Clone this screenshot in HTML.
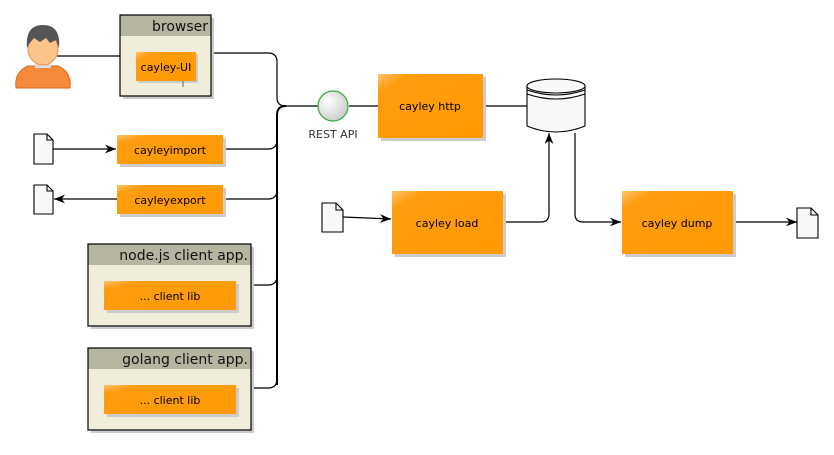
<!DOCTYPE html>
<html><head><meta charset="utf-8"><style>
html,body{margin:0;padding:0;background:#fff;}
svg text{font-family:"DejaVu Sans","Liberation Sans",sans-serif;}
</style></head><body>
<svg width="834" height="450" viewBox="0 0 834 450" xmlns="http://www.w3.org/2000/svg">
<defs>
<linearGradient id="og" x1="0" y1="0" x2="1" y2="1">
<stop offset="0" stop-color="#ffc46a"/><stop offset="0.15" stop-color="#ff9d10"/><stop offset="1" stop-color="#ff9900"/>
</linearGradient>
<radialGradient id="cg" cx="0.35" cy="0.35" r="0.7"><stop offset="0" stop-color="#fff"/><stop offset="1" stop-color="#ccc"/></radialGradient>
<marker id="ar" viewBox="0 0 10 10" refX="10" refY="5" markerWidth="11" markerHeight="11" orient="auto" markerUnits="userSpaceOnUse">
<path d="M0,1 L10,5 L0,9 L3,5 z" fill="#000"/></marker>
</defs>
<g fill="none" stroke="#000" stroke-width="1.2">
<path d="M57,56 H120"/>
<path d="M211,53 H268 Q277,53 277,62 V98 Q277,106 286,106 H318"/>
<path d="M277,385 V115 Q277,106 286,106" stroke-width="2"/>
<path d="M223,149 H268 Q277,149 277,140"/>
<path d="M223,199 H268 Q277,199 277,190"/>
<path d="M251,285 H268 Q277,285 277,276"/>
<path d="M251,388 H268 Q277,388 277,379"/>
<path d="M349,106 H378"/>
<path d="M483,106 H527"/>
<path d="M53,149 H116" marker-end="url(#ar)"/>
<path d="M117,199 H54" marker-end="url(#ar)"/>
<path d="M343,217 L391,219" marker-end="url(#ar)"/>
<path d="M503,222 H541 Q549,222 549,214 V133" marker-end="url(#ar)"/>
<path d="M575,133 V214 Q575,222 583,222 H621" marker-end="url(#ar)"/>
<path d="M733,222 H797" marker-end="url(#ar)"/>
</g>
<!-- person -->
<g>
<path d="M16,88 Q14,72 28,66 L58,66 Q72,72 70,88 Z" fill="#f58b3a" stroke="#d86a1a"/>
<rect x="35" y="62" width="16" height="6" fill="#ddd"/>
<ellipse cx="43" cy="49" rx="15" ry="16" fill="#fbc58a" stroke="#e09050"/>
<path d="M27,48 Q25,25 43,25 Q61,25 59,48 L56,40 L50,43 L46,38 L40,42 L34,38 L29,44 Z" fill="#555"/>
</g>
<!-- browser -->
<rect x="123" y="18" width="91" height="81" fill="#ccc"/>
<rect x="120" y="15" width="91" height="81" fill="#f0eedb"/>
<rect x="120" y="15" width="91" height="21" fill="#b5b5a0"/>
<rect x="120" y="15" width="91" height="81" fill="none" stroke="#000" stroke-width="1.2"/>
<text x="208" y="31" font-size="14" text-anchor="end" fill="#111">browser</text>
<rect x="138" y="54" width="60" height="29" fill="#ccc"/>
<rect x="136" y="52" width="60" height="29" fill="url(#og)"/>
<text x="166" y="71" font-size="11" text-anchor="middle">cayley-UI</text>
<path d="M183,81 V87" stroke="#666"/>
<circle cx="333" cy="106" r="15" fill="url(#cg)" stroke="#3a3" stroke-width="1.2"/>
<text x="333" y="138" font-size="11" text-anchor="middle" fill="#333">REST API</text>
<g font-size="11" text-anchor="middle">
<rect x="381" y="77" width="105" height="64" fill="#ccc"/>
<rect x="378" y="74" width="105" height="64" fill="url(#og)"/>
<text x="430" y="110">cayley http</text>
<rect x="120" y="138" width="106" height="29" fill="#ccc"/>
<rect x="117" y="135" width="106" height="29" fill="url(#og)"/>
<text x="170" y="154">cayleyimport</text>
<rect x="120" y="188" width="106" height="29" fill="#ccc"/>
<rect x="117" y="185" width="106" height="29" fill="url(#og)"/>
<text x="170" y="204">cayleyexport</text>
<rect x="395" y="194" width="111" height="63" fill="#ccc"/>
<rect x="392" y="191" width="111" height="63" fill="url(#og)"/>
<text x="447" y="227">cayley load</text>
<rect x="625" y="194" width="111" height="63" fill="#ccc"/>
<rect x="622" y="191" width="111" height="63" fill="url(#og)"/>
<text x="677" y="227">cayley dump</text>
</g>
<g>
<rect x="91" y="247" width="163" height="82" fill="#ccc"/>
<rect x="88" y="244" width="163" height="82" fill="#f0eedb"/>
<rect x="88" y="244" width="163" height="21" fill="#b5b5a0"/>
<rect x="88" y="244" width="163" height="82" fill="none" stroke="#000" stroke-width="1.2"/>
<text x="248" y="260" font-size="14" text-anchor="end" fill="#111">node.js client app.</text>
<rect x="107" y="284" width="132" height="29" fill="#ccc"/>
<rect x="104" y="281" width="132" height="29" fill="url(#og)"/>
<text x="170" y="300" font-size="11" text-anchor="middle">... client lib</text>
<rect x="91" y="351" width="163" height="82" fill="#ccc"/>
<rect x="88" y="348" width="163" height="82" fill="#f0eedb"/>
<rect x="88" y="348" width="163" height="21" fill="#b5b5a0"/>
<rect x="88" y="348" width="163" height="82" fill="none" stroke="#000" stroke-width="1.2"/>
<text x="248" y="364" font-size="14" text-anchor="end" fill="#111">golang client app.</text>
<rect x="107" y="388" width="132" height="29" fill="#ccc"/>
<rect x="104" y="385" width="132" height="29" fill="url(#og)"/>
<text x="170" y="404" font-size="11" text-anchor="middle">... client lib</text>
</g>
<g fill="#f8f8f8" stroke="#000" stroke-width="1.1">
<path d="M34,134 H47 L53,140 V164 H34 Z"/><path d="M47,134 V140 H53" fill="none"/>
<path d="M34,185 H47 L53,191 V214 H34 Z"/><path d="M47,185 V191 H53" fill="none"/>
<path d="M322,203 H336 L343,210 V232 H322 Z"/><path d="M336,203 V210 H343" fill="none"/>
<path d="M797,208 H811 L818,215 V238 H797 Z"/><path d="M811,208 V215 H818" fill="none"/>
</g>
<g stroke="#000" fill="#f8f8f8" stroke-width="1.1">
<path d="M527,86 V126 Q556,138 585,126 V86"/>
<ellipse cx="556" cy="86" rx="29" ry="7"/>
<path d="M527,90 Q556,100 585,90 M527,94 Q556,104 585,94" fill="none"/>
</g>
</svg>
</body></html>
